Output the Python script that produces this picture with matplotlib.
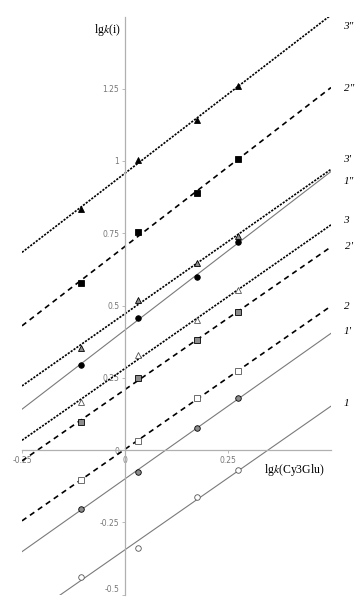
import numpy as np
import matplotlib
matplotlib.use('Agg')
from matplotlib import pyplot as plt

plt.rcParams['mathtext.fontset'] = 'stix'

# lgk(Cy3Glu) values, same for every series
x_vals = [-0.108, 0.031, 0.175, 0.275]

names = ['3"', '2"', "3'", '1"', '3', "2'", '2', "1'", '1']
y_vals = [
    [0.834, 1.003, 1.142, 1.260],   # 3"
    [0.578, 0.754, 0.889, 1.007],   # 2"
    [0.353, 0.519, 0.647, 0.740],   # 3'
    [0.294, 0.457, 0.599, 0.720],   # 1"
    [0.166, 0.329, 0.450, 0.554],   # 3
    [0.097, 0.249, 0.381, 0.478],   # 2'
    [-0.104, 0.031, 0.180, 0.273],  # 2
    [-0.204, -0.076, 0.076, 0.180], # 1'
    [-0.439, -0.339, -0.163, -0.069],  # 1
]

y_ticks = [-0.5, -0.25, 0, 0.25, 0.5, 0.75, 1, 1.25]
y_tick_labels = ['-0.5', '-0.25', '0', '0.25', '0.5', '0.75', '1', '1.25']
x_ticks = [-0.25, 0, 0.25]
x_tick_labels = ['-0.25', '0', '0.25']

# styling per series
markers = {'3': '^', '2': 's', '1': 'o'}
faces = {'"': 'black', "'": '#8c8c8c', '': 'white'}
dotted = (1.3, 0.8)
dashed = (3.2, 2.6)
label_off = {'3"': (9, -8), '2"': (9, -1), "3'": (9, 7), '1"': (9, -7),
             '3': (9, 3), "2'": (10, 0), '2': (9, 0), "1'": (9, 1), '1': (9, 2)}

fig = plt.figure(figsize=(3.61, 5.97), dpi=100)
ax = fig.add_axes([22/361, 1-594.5/597, 309/361, 578/597])
ax.set_xlim(-0.25, 0.5)
ax.set_ylim(-0.5, 1.5)

xx = np.linspace(-0.25, 0.5, 50)
x = np.array(x_vals)
for name, yv in zip(names, y_vals):
    num = name[0]
    kind = name[1:]
    k, b = np.polyfit(x, np.array(yv), 1)
    if num == '1':
        ax.plot(xx, k*xx + b, color='#7a7a7a', lw=0.8, zorder=2)
    else:
        ln, = ax.plot(xx, k*xx + b, color='black', lw=1.2, zorder=2)
        ln.set_dashes(dotted if num == '3' else dashed)
    ax.plot(x, yv, linestyle='none', marker=markers[num], ms=4,
            mfc=faces[kind], mec='black' if kind != '' else '#555555', mew=0.6, zorder=3)
    ax.annotate(name, xy=(0.5, k*0.5 + b), xytext=label_off[name], textcoords='offset points',
                ha='left', va='center', fontsize=8, style='italic', family='Liberation Serif',
                annotation_clip=False)

for s in ['top', 'right']:
    ax.spines[s].set_visible(False)
ax.spines['left'].set_position(('data', 0))
ax.spines['bottom'].set_position(('data', 0))
for s in ['left', 'bottom']:
    ax.spines[s].set_color('#b0b0b0')
    ax.spines[s].set_linewidth(0.9)

ax.set_yticks(y_ticks)
ax.set_yticklabels(y_tick_labels)
ax.set_xticks(x_ticks)
ax.set_xticklabels(x_tick_labels)
ax.tick_params(axis='both', length=2, width=0.6, color='#b0b0b0', labelsize=5.5, labelcolor='#777777', pad=2)
# keep the lowest label inside the picture
ax.get_yticklabels()[0].set_verticalalignment('bottom')

ax.text(-0.01, 1.455, r'lg$\mathit{k}$(i)', ha='right', va='center', fontsize=8.5, family='Liberation Serif')
ax.text(0.41, -0.07, r'lg$\mathit{k}$(Cy3Glu)', ha='center', va='center', fontsize=8.5, family='Liberation Serif')

fig.savefig('out.png', dpi=100)
